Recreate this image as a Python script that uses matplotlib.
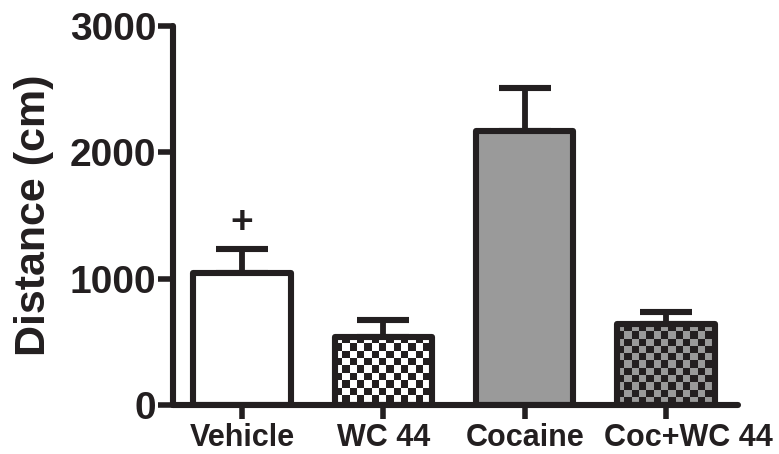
import matplotlib
matplotlib.use("Agg")
import matplotlib.pyplot as plt
import matplotlib.transforms as mtransforms
import numpy as np

# locomotor distance per group (mean + SEM)
groups = ["Vehicle", "WC 44", "Cocaine", "Coc+WC 44"]
means = [1047, 541, 2171, 641]
sems = [188, 132, 336, 95]
fills = ["white", "white", "#9a9a9a", "#9a9a9a"]
checker = [False, True, False, True]
yticks = [0, 1000, 2000, 3000]

ink = "#231f20"
plt.rcParams['font.family'] = ['Liberation Sans', 'DejaVu Sans']
plt.rcParams['font.weight'] = 'bold'

fig = plt.figure(figsize=(7.79, 4.54), dpi=100)
ax = fig.add_axes([0.2221, 0.1079, 0.7253, 0.8348])

x = np.arange(len(groups))
ax.set_xlim(-0.49, 3.51)
ax.set_ylim(0, 3000)

bars = ax.bar(x, means, width=0.69, color=fills, edgecolor='none', zorder=2)

# checkerboard fill, clipped to each bar
fig.canvas.draw()
cell = 7.3  # px
for b, fc, chk in zip(bars, fills, checker):
    if not chk:
        continue
    x0, y0 = b.get_x(), 0
    x1, y1 = b.get_x() + b.get_width(), b.get_height()
    p0 = ax.transData.transform((x0, y0))
    p1 = ax.transData.transform((x1, y1))
    nx = int(np.ceil((p1[0] - p0[0]) / cell))
    ny = int(np.ceil((p1[1] - p0[1]) / cell))
    ii, jj = np.meshgrid(np.arange(nx), np.arange(ny))
    mask = (ii + jj) % 2 == 1
    base = matplotlib.colors.to_rgb(fc)
    img = np.ones((ny, nx, 3)) * base
    img[mask] = matplotlib.colors.to_rgb(ink)
    # extent measured from the top so rows line up with the bar top
    ext_x1 = x0 + nx * cell / (p1[0] - p0[0]) * (x1 - x0)
    ext_y0 = y1 - ny * cell / (p1[1] - p0[1]) * (y1 - y0)
    im = ax.imshow(img, extent=[x0, ext_x1, ext_y0, y1], origin='upper',
                   interpolation='nearest', aspect='auto', zorder=2.5)
    im.set_clip_path(b)

ax.set_xlim(-0.49, 3.51)
ax.set_ylim(0, 3000)

# bar outlines
ax.bar(x, means, width=0.69, color='none', edgecolor=ink, linewidth=4.4,
       joinstyle='round', zorder=3)

ax.errorbar(x, means, yerr=[[0] * 4, sems], fmt='none', ecolor=ink,
            elinewidth=4.2, capsize=19, capthick=4.4, zorder=1.5)
for art in ax.lines:
    art.set_solid_capstyle('round')

ax.annotate("+", (x[0], means[0] + sems[0]), xytext=(0, 19),
            textcoords='offset points', ha='center', va='center',
            fontsize=28, fontweight='bold', color=ink)

for side in ['top', 'right']:
    ax.spines[side].set_visible(False)
for side in ['left', 'bottom']:
    ax.spines[side].set_linewidth(4.4)
    ax.spines[side].set_color(ink)
    ax.spines[side].set_capstyle('round')

ax.set_yticks(yticks)
ax.set_yticklabels([str(v) for v in yticks])
ax.set_xticks(x)
ax.set_xticklabels(groups)
ax.tick_params(axis='y', length=11, width=4, color=ink, labelsize=28,
               labelcolor=ink, pad=1)
ax.tick_params(axis='x', length=10, width=4, color=ink, labelsize=22,
               labelcolor=ink, pad=3)
ax.set_ylabel("Distance (cm)", fontsize=31, fontweight='bold', color=ink,
              labelpad=11)

# last label nudged right so it clears "Cocaine"
last = ax.get_xticklabels()[-1]
last.set_transform(last.get_transform() +
                   mtransforms.ScaledTranslation(16 / 72, 0, fig.dpi_scale_trans))

fig.savefig("out.png", dpi=100)
